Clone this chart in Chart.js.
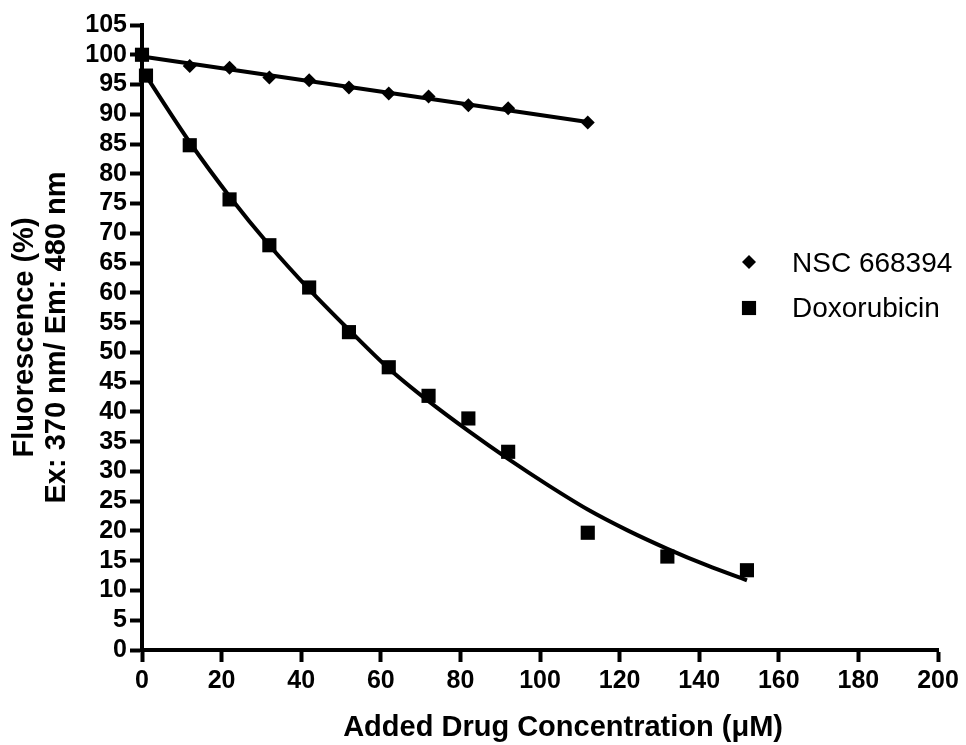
<!DOCTYPE html>
<html>
<head>
<meta charset="utf-8">
<script src="https://cdn.jsdelivr.net/npm/chart.js@4.4.0/dist/chart.umd.min.js"></script>
<style>
  html, body { margin: 0; padding: 0; background: #fff; }
  #wrap { width: 966px; height: 745px; }
</style>
</head>
<body>
<div id="wrap"><canvas id="c" width="966" height="745"></canvas></div>
<script>
// ---- data ----
const seriesNames = ["NSC 668394", "Doxorubicin"];
const nscX = [0, 12, 22, 32, 42, 52, 62, 72, 82, 92, 112];
const nscY = [100, 98.1, 97.8, 96.2, 95.7, 94.5, 93.5, 93.0, 91.5, 91.0, 88.6];
const doxX = [0, 1, 12, 22, 32, 42, 52, 62, 72, 82, 92, 112, 132, 152];
const doxY = [100, 96.5, 84.8, 75.7, 68.0, 60.9, 53.4, 47.5, 42.7, 38.9, 33.3, 19.7, 15.7, 13.4];
// fitted lines
const nscFitX = [0, 112];
const nscFitY = [99.7, 88.7];
const doxFitX = [0, 12, 22, 32, 42, 52, 62, 72, 82, 92, 102, 112, 122, 132, 142, 152];
const doxFitY = [97.5, 85.3, 76.2, 68.0, 60.6, 53.8, 47.3, 41.8, 36.8, 32.1, 27.7, 23.6, 20.1, 17.0, 14.2, 11.7];
const xTitle = "Added Drug Concentration (\u03BCM)";
const yTitle = ["Fluorescence (%)", "Ex: 370 nm/ Em: 480 nm"];

const pts = (xs, ys) => xs.map((x, i) => ({ x: x, y: ys[i] }));
const FONT = "'Liberation Sans', Arial, Helvetica, sans-serif";

const whiteBg = {
  id: 'whiteBg',
  beforeDraw(chart) {
    const ctx = chart.ctx;
    ctx.save();
    ctx.fillStyle = '#fff';
    ctx.fillRect(0, 0, chart.width, chart.height);
    ctx.restore();
  }
};

const extras = {
  id: 'extras',
  afterDraw(chart) {
    const ctx = chart.ctx;
    const area = chart.chartArea;
    ctx.save();
    // x axis title
    ctx.fillStyle = '#000';
    ctx.font = "bold 29px " + FONT;
    ctx.textAlign = 'center';
    ctx.textBaseline = 'alphabetic';
    ctx.fillText(xTitle, area.left + (area.right - area.left) * 0.529, 736);
    // legend
    const items = [
      { ds: chart.data.datasets[0], y: 262, base: 272 },
      { ds: chart.data.datasets[1], y: 308, base: 317 }
    ];
    ctx.font = "28px " + FONT;
    ctx.textAlign = 'left';
    items.forEach(it => {
      Chart.helpers.drawPoint(ctx, {
        pointStyle: it.ds.pointStyle,
        radius: it.ds.legendRadius,
        borderWidth: 0,
        rotation: 0
      }, 749, it.y);
      ctx.fillStyle = '#000';
      ctx.fillText(it.ds.label, 792, it.base);
    });
    ctx.restore();
  }
};

new Chart(document.getElementById('c'), {
  type: 'scatter',
  data: {
    datasets: [
      {
        label: seriesNames[0], data: pts(nscX, nscY), pointStyle: 'rectRot',
        pointRadius: 7, legendRadius: 7, backgroundColor: '#000', borderColor: '#000',
        borderWidth: 0, showLine: false, clip: false
      },
      {
        label: seriesNames[1], data: pts(doxX, doxY), pointStyle: 'rect',
        pointRadius: 10, legendRadius: 10, backgroundColor: '#000', borderColor: '#000',
        borderWidth: 0, showLine: false, clip: false
      },
      {
        label: 'NSC fit', data: pts(nscFitX, nscFitY), showLine: true,
        borderColor: '#000', borderWidth: 4, pointRadius: 0, clip: false
      },
      {
        label: 'Dox fit', data: pts(doxFitX, doxFitY), showLine: true,
        borderColor: '#000', borderWidth: 4, pointRadius: 0, tension: 0.4,
        cubicInterpolationMode: 'monotone', clip: false
      }
    ]
  },
  options: {
    responsive: false,
    animation: false,
    layout: { padding: { top: 25, right: 28, left: 0, bottom: 0 } },
    plugins: { legend: { display: false }, tooltip: { enabled: false } },
    scales: {
      x: {
        type: 'linear', min: 0, max: 200,
        ticks: { stepSize: 20, color: '#000', padding: 4, autoSkip: false,
                 font: { family: FONT, size: 25, weight: 'bold' }, maxRotation: 0 },
        grid: { drawOnChartArea: false, drawTicks: true, tickLength: 12, tickWidth: 4, tickColor: '#000', color: '#000' },
        border: { display: true, width: 4, color: '#000' },
        afterFit(s) { s.height = 95; }
      },
      y: {
        type: 'linear', min: 0, max: 105,
        ticks: { stepSize: 5, color: '#000', padding: 3, autoSkip: false,
                 font: { family: FONT, size: 25, weight: 'bold' } },
        grid: { drawOnChartArea: false, drawTicks: true, tickLength: 12, tickWidth: 4, tickColor: '#000', color: '#000' },
        border: { display: true, width: 4, color: '#000' },
        title: { display: true, text: yTitle, color: '#000',
                 font: { family: FONT, size: 29, weight: 'bold', lineHeight: 1.1 },
                 padding: { top: 9, bottom: 0 } },
        afterFit(s) { s.width = 142; }
      }
    }
  },
  plugins: [whiteBg, extras]
});
</script>
</body>
</html>
